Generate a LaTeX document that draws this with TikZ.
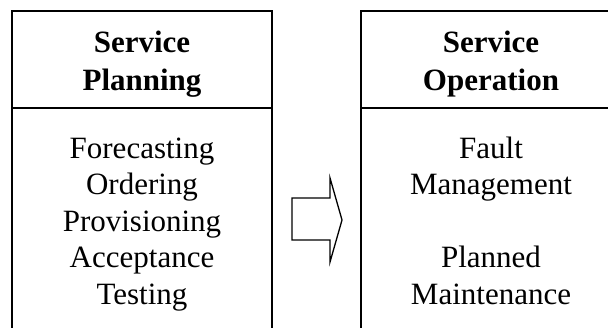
\documentclass[tikz,border=0pt]{standalone}
\usepackage{fontspec}
\setmainfont{Liberation Serif}
\begin{document}
\begin{tikzpicture}[x=1bp,y=1bp,
  boxline/.style={line width=1.6bp, line cap=rect},
  headtext/.style={align=center, inner sep=0pt, anchor=base, font=\fontsize{31bp}{38bp}\selectfont\bfseries},
  bodytext/.style={align=center, inner sep=0pt, anchor=base, font=\fontsize{31bp}{36.5bp}\selectfont},
  arrowshape/.style={line width=1.3bp, line join=miter}]
\useasboundingbox (0,0) rectangle (608,327);
\clip (0,0) rectangle (608,327);
% left box
\coordinate (LTL) at (12,316);
\coordinate (LTR) at (272,316);
\coordinate (LDL) at (12,219);
\coordinate (LDR) at (272,219);
\coordinate (LBL) at (12,-5);
\coordinate (LBR) at (272,-5);
\draw[boxline] (LBL) -- (LTL) -- (LTR) -- (LBR);
\draw[boxline] (LDL) -- (LDR);
\node[headtext] (lhead) at (142,237) {Service\\Planning};
\node[bodytext] (lbody) at (142,23) {Forecasting\\Ordering\\Provisioning\\Acceptance\\Testing};
% right box
\coordinate (RTL) at (361,316);
\coordinate (RTR) at (621,316);
\coordinate (RDL) at (361,219);
\coordinate (RDR) at (621,219);
\coordinate (RBL) at (361,-5);
\draw[boxline] (RBL) -- (RTL) -- (RTR);
\draw[boxline] (RDL) -- (RDR);
\node[headtext] (rhead) at (491,237) {Service\\Operation};
\node[bodytext] (rbody) at (491,23) {Fault\\Management\\\strut\\Planned\\Maintenance};
% block arrow
\draw[arrowshape] (292,129) -- (330,129) -- (330,149) -- (342,107) -- (330,65) -- (330,87) -- (292,87) -- cycle;
\end{tikzpicture}
\end{document}
